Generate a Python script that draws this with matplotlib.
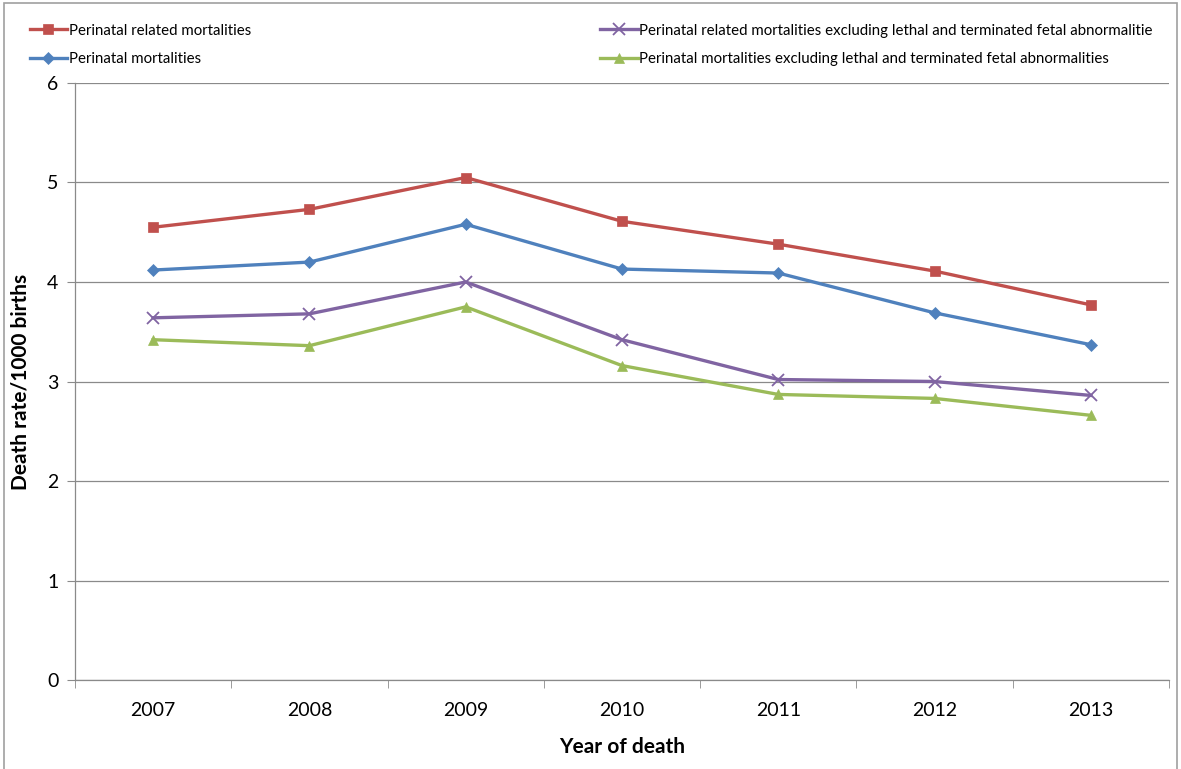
import numpy as np
import matplotlib.pyplot as plt
from matplotlib.patches import Rectangle

plt.rcParams['font.family'] = ['Lato', 'DejaVu Sans']

years = ['2007', '2008', '2009', '2010', '2011', '2012', '2013']
related = [4.55, 4.73, 5.05, 4.61, 4.38, 4.11, 3.77]
perinatal = [4.12, 4.20, 4.58, 4.13, 4.09, 3.69, 3.37]
related_excl = [3.64, 3.68, 4.00, 3.42, 3.02, 3.00, 2.86]
perinatal_excl = [3.42, 3.36, 3.75, 3.16, 2.87, 2.83, 2.66]

labels = ['Perinatal related mortalities',
          'Perinatal mortalities',
          'Perinatal related mortalities excluding lethal and terminated fetal abnormalitie',
          'Perinatal mortalities excluding lethal and terminated fetal abnormalities']
colors = ['#C0504D', '#4F81BD', '#8064A2', '#9BBB59']
markers = ['s', 'D', 'x', '^']
msizes = [7, 6, 8, 7]

fig = plt.figure(figsize=(11.81, 7.69), dpi=100)
ax = fig.add_axes([0.0635, 0.1157, 0.9263, 0.7764])

x = np.arange(len(years))
series = [related, perinatal, related_excl, perinatal_excl]
handles = []
for vals, c, m, ms, lab in zip(series, colors, markers, msizes, labels):
    h, = ax.plot(x, vals, color=c, lw=2.4, marker=m, markersize=ms,
                 markeredgewidth=1.3 if m == 'x' else 0.5, markeredgecolor=c, label=lab)
    handles.append(h)

ax.set_xlim(-0.5, 6.5)
ax.set_ylim(0, 6)
ax.set_yticks(range(0, 7))
ax.yaxis.grid(True, color='#8a8a8a', lw=0.9)
ax.set_axisbelow(True)
ax.set_xticks(x)
ax.set_xticklabels(years)
ax.set_xticks(np.arange(-0.5, 7.0, 1.0), minor=True)
ax.tick_params(axis='x', which='major', length=0, pad=16, labelsize=14)
ax.tick_params(axis='x', which='minor', length=6, color='#8a8a8a', direction='out')
ax.tick_params(axis='y', length=6, color='#8a8a8a', labelsize=14, pad=6)
for s in ['top', 'right']:
    ax.spines[s].set_visible(False)
for s in ['left', 'bottom']:
    ax.spines[s].set_color('#8a8a8a')
    ax.spines[s].set_linewidth(0.9)

ax.set_xlabel('Year of death', fontsize=15, fontweight='bold', labelpad=13)
ax.set_ylabel('Death rate/1000 births', fontsize=15, fontweight='bold', labelpad=12)

leg_kw = dict(loc='upper left', frameon=False, fontsize=10.8, handlelength=2.5,
              handletextpad=0.1, labelspacing=0.95, borderaxespad=0)
fig.legend(handles[:2], labels[:2], bbox_to_anchor=(0.02, 0.977), **leg_kw)
fig.legend(handles[2:], labels[2:], bbox_to_anchor=(0.503, 0.977), **leg_kw)

fig.patches.append(Rectangle((0.003, -0.01), 0.994, 1.006, transform=fig.transFigure,
                             fill=False, edgecolor='#a0a0a0', lw=1.2))

fig.savefig('out.png', dpi=100)
